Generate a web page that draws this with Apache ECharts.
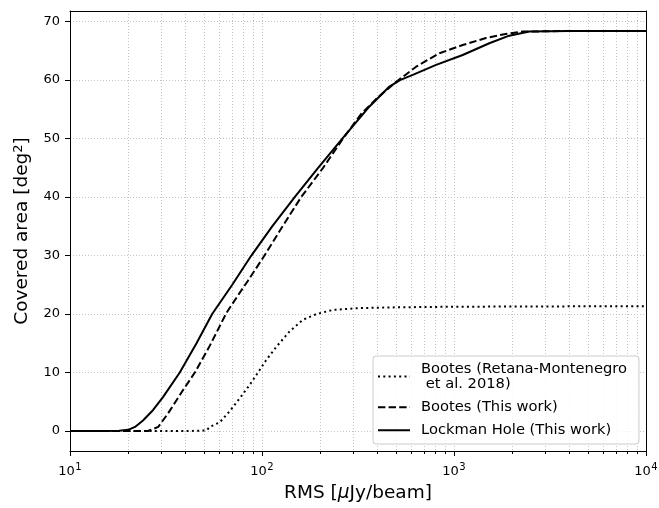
<!DOCTYPE html>
<html><head><meta charset="utf-8">
<script src="https://cdn.jsdelivr.net/npm/echarts@6/dist/echarts.min.js"></script>
<style>html,body{margin:0;padding:0;background:#fff}#c{width:659px;height:508px}</style>
</head><body><div id="c"></div>
<script>
// ---- data ----
const seriesNames = ['Bootes (Retana-Montenegro\n et al. 2018)', 'Bootes (This work)', 'Lockman Hole (This work)'];

const retanaRms  = [10, 30, 42, 51.4, 53.5, 60.3, 67.9, 76.6, 86.3, 95.3, 105, 118.8, 139, 163, 192, 234, 310, 500, 1000, 3000, 10000];
const retanaArea = [0, 0, 0, 0.1, 0.7, 1.5, 3.4, 5.6, 7.9, 10, 12.1, 14.4, 17.0, 19.0, 20.0, 20.7, 21.0, 21.15, 21.25, 21.3, 21.35];

const bootesRms  = [10, 20, 25.5, 28.8, 32.4, 38.8, 44.7, 53.5, 65.3, 75, 84.5, 103, 128, 160, 208, 264, 330, 400, 500, 635, 840, 1110, 1467, 1862, 2275, 4000, 10000];
const bootesArea = [0, 0, 0, 0.7, 3.0, 7.0, 10, 14.6, 20.2, 23.2, 25.7, 30, 35, 40, 45, 50, 54.3, 57.0, 59.7, 62.3, 64.6, 66.0, 67.2, 67.9, 68.3, 68.4, 68.4];

const lockmanRms  = [10, 15, 18, 20.1, 21.8, 24.0, 27.1, 30.5, 37.3, 45.6, 55, 70, 88, 113, 148, 196, 262, 363, 461, 523, 610, 807, 1110, 1527, 1940, 2465, 4000, 10000];
const lockmanArea = [0, 0, 0.05, 0.2, 0.7, 1.8, 3.6, 5.8, 10, 15, 20, 25, 30, 35, 40, 45, 50, 55.5, 58.9, 60, 60.9, 62.6, 64.3, 66.3, 67.6, 68.3, 68.4, 68.4];

const xMajorTicks = [10, 100, 1000, 10000];
const xTickExponents = ['1', '2', '3', '4'];
const xMinorTicks = [20, 30, 40, 50, 60, 70, 80, 90, 200, 300, 400, 500, 600, 700, 800, 900, 2000, 3000, 4000, 5000, 6000, 7000, 8000, 9000];
const yTicks = [0, 10, 20, 30, 40, 50, 60, 70];

// ---- chart ----
function pairs(xs, ys) { return xs.map((x, i) => [x, ys[i]]); }
const FONT = 'DejaVu Sans';
const gridRect = { left: 70, right: 13, top: 11, bottom: 57, containLabel: false, outerBoundsMode: 'none' };
const gridLine = { color: '#c4c4c4', type: [1, 2], width: 1 };
const frameLine = { show: true, onZero: false, lineStyle: { color: '#000', width: 1 } };
const allXTicks = xMajorTicks.concat(xMinorTicks);
const YMIN = -3.42, YMAX = 71.82;

const chart = echarts.init(document.getElementById('c'), null, { renderer: 'canvas' });
chart.setOption({
  animation: false,
  backgroundColor: '#fff',
  grid: [
    Object.assign({ show: false }, gridRect),
    Object.assign({ show: false }, gridRect)
  ],
  xAxis: [
    {
      type: 'log', logBase: 10, gridIndex: 0, min: 10, max: 10000, position: 'bottom',
      axisLine: frameLine,
      axisTick: { show: true, customValues: allXTicks, length: 3, lineStyle: { color: '#000', width: 1 } },
      axisLabel: { show: false },
      splitLine: { show: true, lineStyle: gridLine },
      name: 'RMS [{i|\u03bc}Jy/beam]', nameLocation: 'middle', nameGap: 33,
      nameTextStyle: {
        fontFamily: FONT, fontSize: 18.5, color: '#000',
        rich: { i: { fontFamily: FONT, fontSize: 18.5, fontStyle: 'italic', color: '#000' } }
      }
    },
    {
      type: 'log', logBase: 10, gridIndex: 1, min: 10, max: 10000, position: 'bottom',
      axisLine: { show: false, onZero: false },
      axisTick: { show: true, customValues: xMajorTicks, length: 5, lineStyle: { color: '#000', width: 1 } },
      axisLabel: {
        show: true, customValues: xMajorTicks, margin: 11,
        formatter: v => '{b|10}{s|' + xTickExponents[Math.round(Math.log10(v)) - 1] + '}',
        rich: {
          b: { fontFamily: FONT, fontSize: 13, color: '#000', lineHeight: 16, verticalAlign: 'bottom' },
          s: { fontFamily: FONT, fontSize: 10, color: '#000', lineHeight: 16, verticalAlign: 'top', padding: [0, 0, 0, 0.5] }
        }
      },
      splitLine: { show: false }
    },
    {
      type: 'log', logBase: 10, gridIndex: 0, min: 10, max: 10000, position: 'top',
      axisLine: frameLine, axisTick: { show: false }, axisLabel: { show: false }, splitLine: { show: false }
    }
  ],
  yAxis: [
    {
      type: 'value', gridIndex: 0, min: YMIN, max: YMAX, position: 'left',
      axisLine: frameLine,
      axisTick: { show: true, customValues: yTicks, length: 5, lineStyle: { color: '#000', width: 1 } },
      axisLabel: { customValues: yTicks, margin: 10, fontFamily: FONT, fontSize: 13, color: '#000' },
      splitLine: { show: true, lineStyle: gridLine },
      name: 'Covered area [deg{s|2}]', nameLocation: 'middle', nameGap: 38, nameRotate: 90,
      nameTextStyle: {
        fontFamily: FONT, fontSize: 18.5, color: '#000',
        rich: { s: { fontFamily: FONT, fontSize: 13, color: '#000', verticalAlign: 'top', lineHeight: 20 } }
      }
    },
    { type: 'value', gridIndex: 1, min: YMIN, max: YMAX, show: false },
    {
      type: 'value', gridIndex: 0, min: YMIN, max: YMAX, position: 'right',
      axisLine: frameLine, axisTick: { show: false }, axisLabel: { show: false }, splitLine: { show: false }
    }
  ],
  legend: {
    orient: 'vertical', left: 373, top: 356,
    padding: [5, 12, 6, 4],
    itemWidth: 32, itemHeight: 14, itemGap: 7.5,
    backgroundColor: 'rgba(255,255,255,0.85)',
    borderColor: '#cccccc', borderWidth: 1, borderRadius: 3,
    itemStyle: { color: 'rgba(0,0,0,0)', borderColor: 'rgba(0,0,0,0)', borderWidth: 0, opacity: 0 },
    textStyle: { fontFamily: FONT, fontSize: 14.7, color: '#000', lineHeight: 15.5, padding: [0, 0, 0, 6] },
    data: seriesNames
  },
  series: [
    {
      name: seriesNames[0], type: 'line', xAxisIndex: 0, yAxisIndex: 0,
      data: pairs(retanaRms, retanaArea), symbol: 'none', showSymbol: false,
      lineStyle: { color: '#000', width: 2, type: [2, 3.3] }, itemStyle: { color: '#000' }
    },
    {
      name: seriesNames[1], type: 'line', xAxisIndex: 0, yAxisIndex: 0,
      data: pairs(bootesRms, bootesArea), symbol: 'none', showSymbol: false,
      lineStyle: { color: '#000', width: 2, type: [7.4, 3.2] }, itemStyle: { color: '#000' }
    },
    {
      name: seriesNames[2], type: 'line', xAxisIndex: 0, yAxisIndex: 0,
      data: pairs(lockmanRms, lockmanArea), symbol: 'none', showSymbol: false,
      lineStyle: { color: '#000', width: 2, type: 'solid' }, itemStyle: { color: '#000' }
    }
  ]
});
</script>
</body></html>
